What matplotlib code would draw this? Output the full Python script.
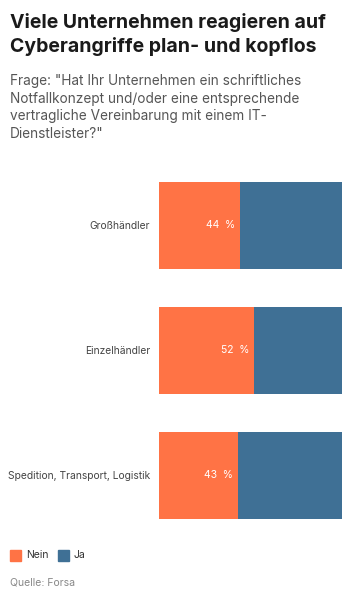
import numpy as np
import matplotlib.pyplot as plt
from matplotlib.patches import Rectangle

categories = ["Großhändler", "Einzelhändler", "Spedition, Transport, Logistik"]
nein = [44, 52, 43]
ja = [56, 48, 57]
series_names = ["Nein", "Ja"]

c_nein = "#FF7345"
c_ja = "#3F7095"

plt.rcParams['font.family'] = ['Inter', 'DejaVu Sans']

fig = plt.figure(figsize=(3.6, 6.0), dpi=100)

fig.text(0.028, 0.978, "Viele Unternehmen reagieren auf\nCyberangriffe plan- und kopflos",
         fontsize=14, fontweight='bold', color='#1a1a1a', va='top', ha='left',
         linespacing=1.3)
fig.text(0.028, 0.877,
         'Frage: "Hat Ihr Unternehmen ein schriftliches\nNotfallkonzept und/oder eine entsprechende\n'
         'vertragliche Vereinbarung mit einem IT-\nDienstleister?"',
         fontsize=9.8, color='#555555', va='top', ha='left', linespacing=1.35)

ax = fig.add_axes([159 / 360, 1 - 538 / 600, 183 / 360, 375 / 600])
y = np.arange(len(categories))
ax.barh(y, nein, height=0.7, color=c_nein)
ax.barh(y, ja, left=nein, height=0.7, color=c_ja)
for yi, v in zip(y, nein):
    ax.text(v - 2.5, yi, f"{v}  %", color='white', fontsize=7.5,
            ha='right', va='center')
ax.set_xlim(0, 100)
ax.set_ylim(len(categories) - 0.5, -0.5)
ax.set_yticks(y)
ax.set_yticklabels(categories, fontsize=7.4, color='#444444')
ax.tick_params(axis='y', length=0, pad=6.5)
ax.set_xticks([])
for s in ax.spines.values():
    s.set_visible(False)

# legend
lx, ly = 10 / 360, 1 - 561 / 600
for i, (name, col) in enumerate(zip(series_names, [c_nein, c_ja])):
    x0 = lx + i * (48 / 360)
    fig.patches.append(Rectangle((x0, ly), 11 / 360, 11 / 600, transform=fig.transFigure,
                                 color=col, figure=fig))
    fig.text(x0 + 16 / 360, ly + 5.5 / 600, name, fontsize=7.5, color='#333333',
             va='center', ha='left')

fig.text(lx, 1 - 583 / 600, "Quelle: Forsa", fontsize=7.5, color='#888888',
         va='center', ha='left')

fig.savefig("out.png", dpi=100)
